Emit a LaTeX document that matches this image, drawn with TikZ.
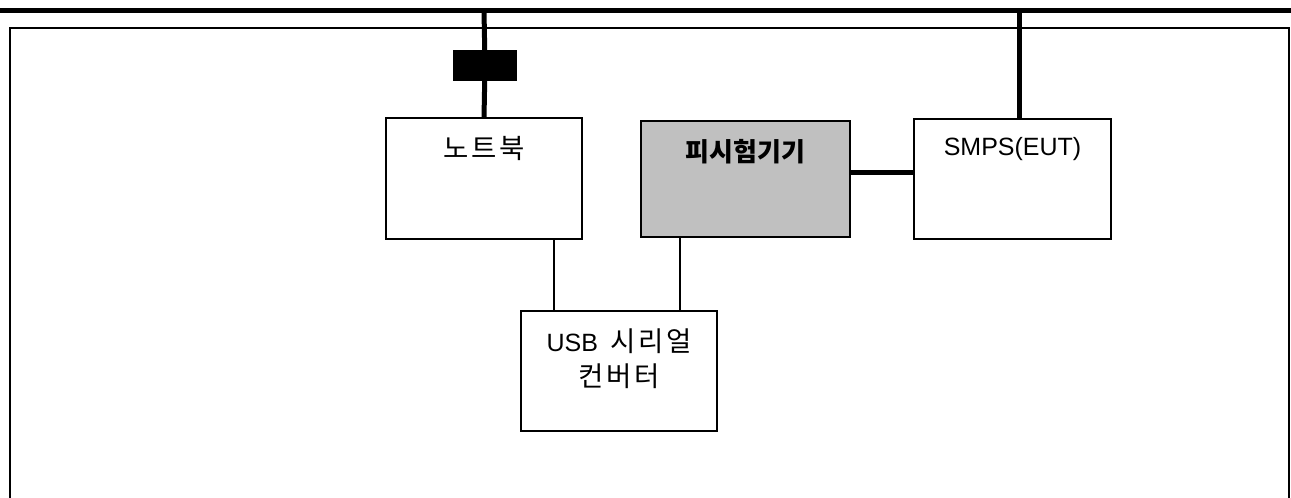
\documentclass[tikz,border=0pt]{standalone}
\usepackage{fontspec}
\setmainfont{Liberation Sans}
\newfontfamily\kr[Scale=1.1, LetterSpace=10]{Noto Sans CJK KR}
\newfontfamily\krtight[Scale=1.04]{Noto Sans CJK KR}
\usetikzlibrary{positioning}
\definecolor{eutgray}{RGB}{192,192,192}

\begin{document}
\begin{tikzpicture}[x=1pt, y=-1pt,
unit/.style={draw, line width=1.6pt, inner sep=0pt, outer sep=0pt},
boxtext/.style={anchor=north, inner sep=0pt, yshift=-18pt, align=center, font=\fontsize{25}{35}\selectfont},
bus/.style={line width=5pt},
wire/.style={line width=1.2pt}]
\useasboundingbox (0,0) rectangle (1291,498);
\coordinate (railL) at (0,10.5);
\coordinate (railR) at (1291,10.5);
\draw[line width=2.5pt] (10,498) -- (10,28) -- (1289,28) -- (1289,498);
\node[unit, minimum width=196pt, minimum height=121pt, label={[boxtext]north:{\kr 노트북}}] (nb) at (484,178.5) {};
\node[unit, fill=eutgray, minimum width=209pt, minimum height=116pt, label={[boxtext]north:{\krtight\bfseries 피시험기기}}] (eut) at (745.5,179) {};
\node[unit, minimum width=197pt, minimum height=120pt, label={[boxtext]north:{SMPS(EUT)}}] (smps) at (1012.5,179) {};
\node[unit, minimum width=196pt, minimum height=120pt, label={[boxtext]north:{USB\hspace{12pt}{\kr 시리얼}\\{\kr 컨버터}}}] (usb) at (619,371) {};
\node[unit, fill=black, minimum width=62pt, minimum height=29pt] (plug) at (485,65.5) {};
\coordinate (smpsin) at ([xshift=6.5pt]smps.north);
\coordinate (eutout) at ([yshift=7pt]eut.east);
\coordinate (nbport) at ([xshift=70pt]nb.south);
\coordinate (eutport) at ([xshift=-65.5pt]eut.south);
\draw[bus] (railL) -- (railR);
\draw[bus] (nb.north) -- (plug) -- (nb.north |- railL);
\draw[bus] (smpsin) -- (smpsin |- railL);
\draw[bus] (eutout) -- (eutout -| smps.west);
\draw[wire] (nbport) -- (nbport |- usb.north);
\draw[wire] (eutport) -- (eutport |- usb.north);
\end{tikzpicture}
\end{document}
